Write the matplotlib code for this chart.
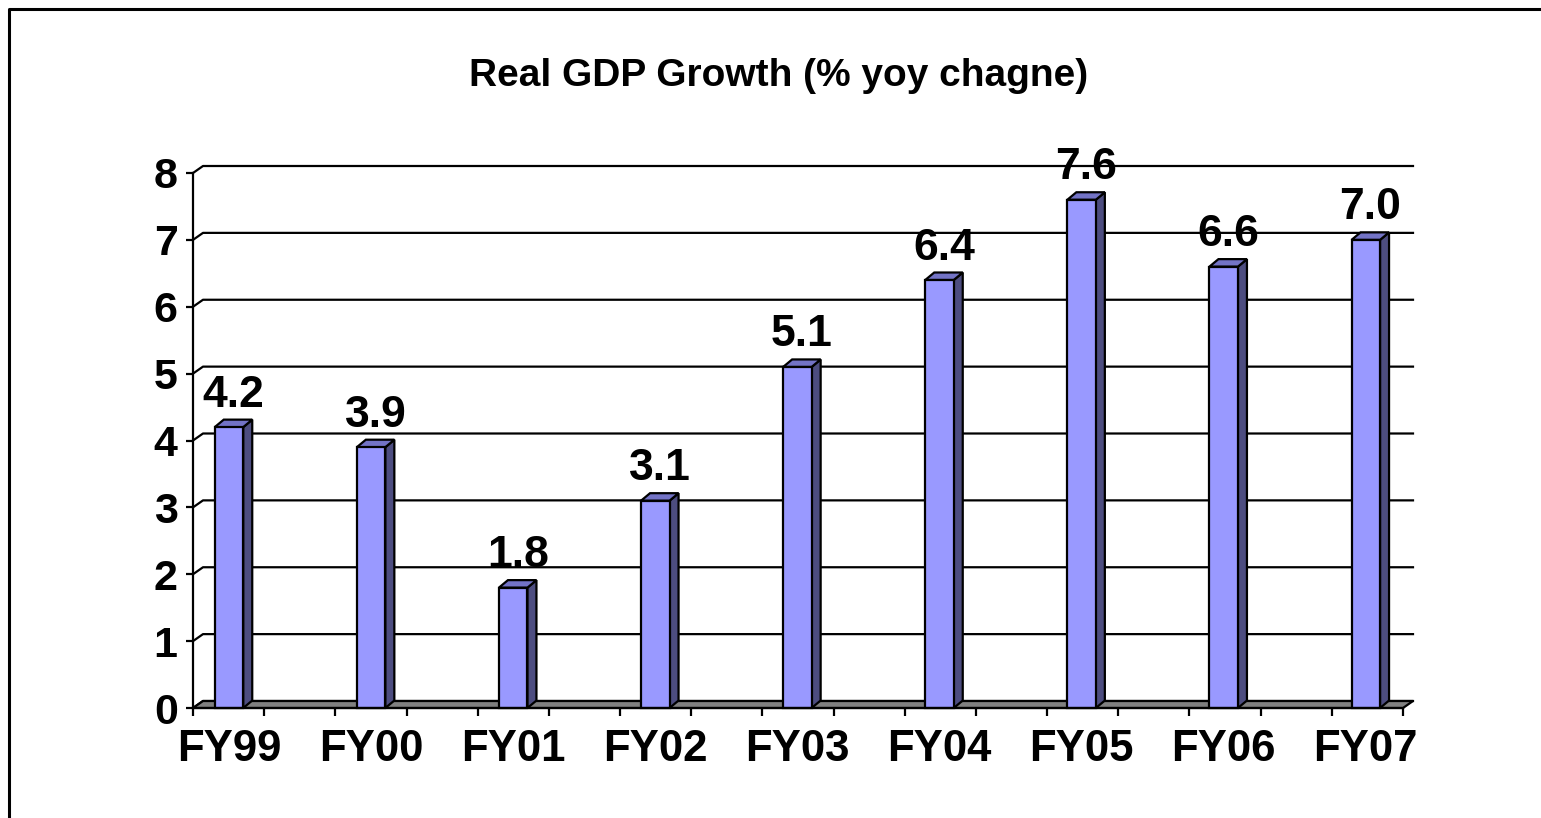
import matplotlib
matplotlib.use("Agg")
import matplotlib.pyplot as plt
from matplotlib.patches import Polygon, Rectangle
from matplotlib.lines import Line2D

# chart data
years = ["FY99", "FY00", "FY01", "FY02", "FY03", "FY04", "FY05", "FY06", "FY07"]
growth = [4.2, 3.9, 1.8, 3.1, 5.1, 6.4, 7.6, 6.6, 7.0]
y_ticks = [0, 1, 2, 3, 4, 5, 6, 7, 8]
title = "Real GDP Growth (% yoy chagne)"

W, H, DPI = 1541, 818, 100
FRONT = "#9999FF"
TOP = "#7373C6"
SIDE = "#4D4D80"
FLOOR = "#808080"

plt.rcParams["font.family"] = ["Liberation Sans", "DejaVu Sans"]
plt.rcParams["font.weight"] = "bold"

fig = plt.figure(figsize=(W / DPI, H / DPI), dpi=DPI)

# front plane of the plot area in pixels
left_px, right_px, top_px, bottom_px = 193, 1403, 173, 708
ax = fig.add_axes([left_px / W, 1 - bottom_px / H,
                   (right_px - left_px) / W, (bottom_px - top_px) / H])

x_pos = list(range(len(years)))
step_px = 142.1
x0 = -(229 - left_px) / step_px
x1 = (right_px - 229) / step_px
y_max = y_ticks[-1]
ax.set_xlim(x0, x1)
ax.set_ylim(0, y_max)

# depth offset of the 3D look, converted from pixels to data units
px_x = (right_px - left_px) / (x1 - x0)
px_y = (bottom_px - top_px) / y_max
dx, dy = 10 / px_x, 7 / px_y
bdx, bdy = 9 / px_x, 7.5 / px_y
bar_w = 28.5 / px_x

# back wall gridlines with the small diagonal to the front axis
for y in y_ticks:
    ax.add_line(Line2D([x0, x0 + dx, x1 + dx], [y, y + dy, y + dy],
                       color="black", lw=1.6, zorder=1, clip_on=False))

# floor
ax.add_patch(Polygon([(x0, 0), (x1, 0), (x1 + dx, dy), (x0 + dx, dy)],
                     closed=True, facecolor=FLOOR, edgecolor="black",
                     lw=1.6, zorder=2, clip_on=False))

# bars
for x, v in zip(x_pos, growth):
    xl, xr = x - bar_w / 2, x + bar_w / 2
    ax.add_patch(Polygon([(xr, 0), (xr, v), (xr + bdx, v + bdy), (xr + bdx, bdy)],
                         closed=True, facecolor=SIDE, edgecolor="black",
                         lw=1.6, zorder=3, clip_on=False))
    ax.add_patch(Polygon([(xl, v), (xr, v), (xr + bdx, v + bdy), (xl + bdx, v + bdy)],
                         closed=True, facecolor=TOP, edgecolor="black",
                         lw=1.6, zorder=3, clip_on=False))
    ax.add_patch(Rectangle((xl, 0), bar_w, v, facecolor=FRONT,
                           edgecolor="black", lw=1.6, zorder=4, clip_on=False))
    ax.text(x + bdx / 2, v + bdy + 4 / px_y, f"{v:.1f}", ha="center", va="bottom",
            fontsize=32, fontweight="bold", zorder=5)

# axes, ticks and labels
for side in ["top", "right"]:
    ax.spines[side].set_visible(False)
ax.spines["left"].set_linewidth(1.6)
ax.spines["bottom"].set_linewidth(1.6)
ax.spines["left"].set_zorder(5)
ax.spines["bottom"].set_zorder(5)

ax.set_yticks(y_ticks)
ax.set_yticklabels([str(t) for t in y_ticks])
ax.tick_params(axis="y", direction="out", length=5, width=1.6,
               labelsize=31, pad=6)

ax.set_xticks(x_pos)
ax.set_xticklabels(years)
ax.tick_params(axis="x", which="major", length=0, labelsize=31.5, pad=15)
n_div = 17
ax.set_xticks([x0 + k * (x1 - x0) / n_div for k in range(n_div + 1)], minor=True)
ax.tick_params(axis="x", which="minor", direction="out", length=6, width=1.6)
for lab in ax.get_xticklabels() + ax.get_yticklabels():
    lab.set_fontweight("bold")

ax.patch.set_visible(False)

fig.text(779 / W, 1 - 76 / H, title, ha="center", va="center",
         fontsize=28, fontweight="bold")

# outer chart border (left and top edges visible)
bx, by = 9 / W, 1 - 9 / H
fig.add_artist(Line2D([bx, bx, 1.0], [0.0, by, by], transform=fig.transFigure,
                      color="black", lw=2.2))

fig.savefig("out.png", dpi=DPI)
